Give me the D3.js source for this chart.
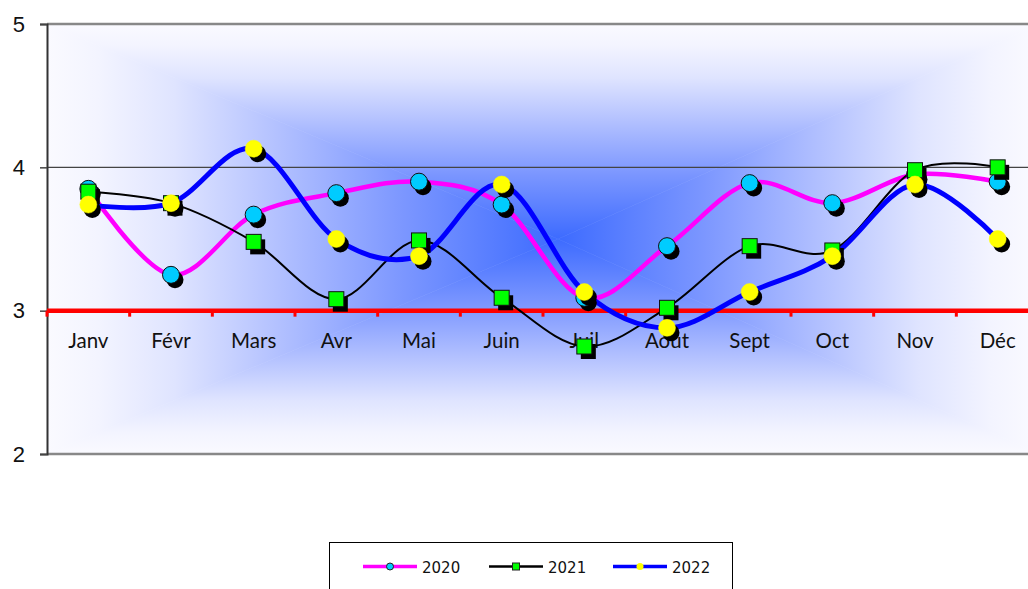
<!DOCTYPE html>
<html><head><meta charset="utf-8">
<script src="https://cdn.jsdelivr.net/npm/d3@7"></script>
<style>body{margin:0;background:#fff}svg{display:block}</style>
</head><body><svg id="c" width="1028" height="589"></svg>
<script>
const months = ["Janv","Févr","Mars","Avr","Mai","Juin","Juil","Aout","Sept","Oct","Nov","Déc"];
const years = ["2020","2021","2022"];
const s2020 = [3.85,3.25,3.67,3.82,3.90,3.74,3.09,3.45,3.89,3.75,3.95,3.90];
const s2021 = [3.83,3.75,3.48,3.08,3.49,3.09,2.75,3.02,3.45,3.42,3.98,4.00];
const s2022 = [3.74,3.75,4.13,3.50,3.38,3.88,3.13,2.88,3.13,3.38,3.88,3.50];
const yTicks = [2,3,4,5];

const lineColors = ["#ff00ff","#000000","#0000ff"];
const lineWidths = [4.5,2,5];
const markerFill = ["#00ccff","#00ff00","#ffff00"];
const markerShape = ["circle","square","circle"];
const seriesValues = [s2020,s2021,s2022];

const svg = d3.select("#c");
const L=47, R=1039, T=24, B=454;
const x = d3.scalePoint().domain(months).range([L,R]).padding(0.5);
const y = d3.scaleLinear().domain([2,5]).range([B,T]);
const step = x.step();

// background: rectangular path gradient (4 triangles)
const defs = svg.append("defs");
const cx=(L+R)/2+15, cy=(T+B)/2;
const stops=[[0,"#fafaff"],[0.1,"#f3f4ff"],[0.25,"#dfe4ff"],[0.45,"#b3c1ff"],[0.7,"#7b96ff"],[1,"#3d6bff"]];
const tris=[
 {id:"gT",pts:[[L,T],[R,T],[cx,cy]],from:[cx,T]},
 {id:"gB",pts:[[L,B],[R,B],[cx,cy]],from:[cx,B]},
 {id:"gL",pts:[[L,T],[L,B],[cx,cy]],from:[L,cy]},
 {id:"gR",pts:[[R,T],[R,B],[cx,cy]],from:[R,cy]}
];
tris.forEach(t=>{
  const g=defs.append("linearGradient").attr("id",t.id).attr("gradientUnits","userSpaceOnUse")
    .attr("x1",t.from[0]).attr("y1",t.from[1]).attr("x2",cx).attr("y2",cy);
  stops.forEach(s=>g.append("stop").attr("offset",s[0]).attr("stop-color",s[1]));
  svg.append("polygon").attr("points",t.pts.map(p=>p.join(",")).join(" "))
    .attr("fill","url(#"+t.id+")").attr("stroke","url(#"+t.id+")").attr("stroke-width",0.6);
});

// gridline at 4
svg.append("line").attr("x1",L).attr("x2",1028).attr("y1",y(4)).attr("y2",y(4))
  .attr("stroke","#444").attr("stroke-width",1.3);
// borders top/bottom
[5,2].forEach(v=>svg.append("line").attr("x1",L).attr("x2",1028).attr("y1",y(v)).attr("y2",y(v))
  .attr("stroke","#888").attr("stroke-width",2.5));

// y axis
const yAxis = d3.axisLeft(y).tickValues(yTicks).tickFormat(d3.format("d")).tickSize(7).tickPadding(15);
const ya = svg.append("g").attr("transform",`translate(${L},0)`).call(yAxis);
ya.select(".domain").attr("stroke","#333").attr("stroke-width",2);
ya.selectAll(".tick line").attr("stroke","#444").attr("stroke-width",1.5);
ya.selectAll(".tick text").attr("font-family","Liberation Sans, Arial, sans-serif")
  .attr("font-size",22).attr("fill","#111");

// x axis at y=3 (red)
const xa = svg.append("g").attr("transform",`translate(0,${y(3)})`);
xa.append("line").attr("x1",L).attr("x2",1028).attr("stroke","#ff0000").attr("stroke-width",4.5);
const bounds = d3.range(months.length+1).map(i=>L+i*step);
xa.selectAll("line.tk").data(bounds).join("line").attr("class","tk")
  .attr("x1",d=>d).attr("x2",d=>d).attr("y1",0).attr("y2",6)
  .attr("stroke","#ff0000").attr("stroke-width",3);
xa.selectAll("text").data(months).join("text")
  .attr("x",d=>x(d)).attr("y",37).attr("text-anchor","middle")
  .attr("font-family","Comic Sans MS, Lato, sans-serif").attr("font-size",20.5).attr("fill","#111")
  .text(d=>d);

// lines
const line = d3.line().x((d,i)=>x(months[i])).y(d=>y(d)).curve(d3.curveCardinal.tension(0));
seriesValues.forEach((vals,k)=>{
  svg.append("path").datum(vals).attr("d",line).attr("fill","none")
    .attr("stroke",lineColors[k]).attr("stroke-width",lineWidths[k]).attr("stroke-linejoin","round");
});

// markers with shadows
function drawMarker(g,shape,px,py,size,fill,stroke,sw){
  if(shape==="circle"){
    g.append("circle").attr("cx",px).attr("cy",py).attr("r",size).attr("fill",fill)
      .attr("stroke",stroke).attr("stroke-width",sw);
  } else {
    g.append("rect").attr("x",px-size).attr("y",py-size).attr("width",2*size).attr("height",2*size)
      .attr("fill",fill).attr("stroke",stroke).attr("stroke-width",sw);
  }
}
seriesValues.forEach((vals,k)=>{
  const g=svg.append("g");
  vals.forEach((v,i)=>{
    const px=x(months[i]), py=y(v);
    const sz = markerShape[k]==="circle"?8.5:7.5;
    drawMarker(g,markerShape[k],px+4,py+5,sz,"#000","none",0);
    drawMarker(g,markerShape[k],px,py,sz,markerFill[k],k===2?"#ffff00":"#111",k===2?0.5:1);
  });
});

// legend
const lg = svg.append("g");
lg.append("rect").attr("x",329.5).attr("y",542.5).attr("width",403).attr("height",70)
  .attr("fill","#fff").attr("stroke","#000").attr("stroke-width",1);
const legX=[363,489,613];
years.forEach((yr,k)=>{
  const x0=legX[k], ly=566.5;
  lg.append("line").attr("x1",x0).attr("x2",x0+54).attr("y1",ly).attr("y2",ly)
    .attr("stroke",lineColors[k]).attr("stroke-width",k===1?2.5:3.5);
  drawMarker(lg,markerShape[k],x0+27,ly,3.5,markerFill[k],k===2?"#ffff00":"#222",k===2?0:1);
  lg.append("text").attr("x",x0+59).attr("y",ly+6).attr("font-family","DejaVu Sans, sans-serif")
    .attr("font-size",15).attr("fill","#111").text(yr);
});
</script></body></html>
